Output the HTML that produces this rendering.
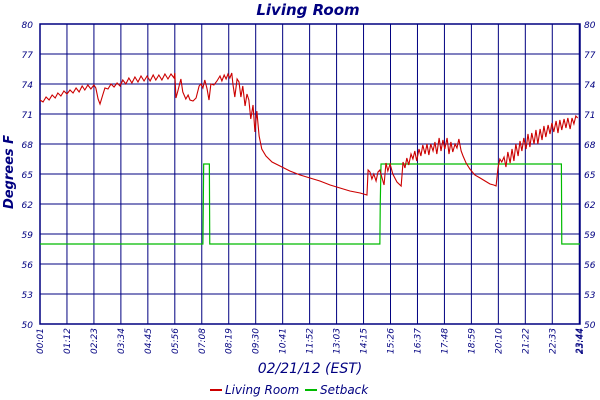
<!DOCTYPE html>
<html><head><meta charset="utf-8"><style>
body{margin:0;background:#fff}
svg{display:block;font-family:"DejaVu Sans","Liberation Sans",sans-serif}
</style></head><body>
<svg width="600" height="400" viewBox="0 0 600 400">
<text x="308" y="15" text-anchor="middle" fill="#000080" font-size="15" font-style="italic" font-weight="bold">Living Room</text>
<text transform="translate(13,172) rotate(-90)" text-anchor="middle" fill="#000080" font-size="13" font-style="italic" font-weight="bold">Degrees F</text>
<text x="310" y="373" text-anchor="middle" fill="#000080" font-size="14" font-style="italic">02/21/12 (EST)</text>
<g>
<line x1="210" y1="390" x2="222" y2="390" stroke="#cc0000" stroke-width="2"/>
<text x="225" y="394" fill="#000080" font-size="12" font-style="italic">Living Room</text>
<line x1="305" y1="390" x2="317" y2="390" stroke="#00bb00" stroke-width="2"/>
<text x="320" y="394" fill="#000080" font-size="12" font-style="italic">Setback</text>
</g>
<g id="grid"></g>
<g id="series"></g>
<g id="labels"></g>
</svg>
<script>
const yTicks=[50,53,56,59,62,65,68,71,74,77,80];
const xTickMinutes=[0,71,142,213,284,355,426,497,568,639,710,781,852,923,994,1065,1136,1207,1278,1349,1420,1422];
const xTickLabels=["00:01","01:12","02:23","03:34","04:45","05:56","07:08","08:19","09:30","10:41","11:52","13:03","14:15","15:26","16:37","17:48","18:59","20:10","21:22","22:33","23:44","23:44"];
const tempMinutes=[0,8,16,24,32,40,47,55,63,71,79,87,95,103,111,118,126,134,142,147,153,158,166,171,179,187,195,203,211,218,226,234,242,250,258,266,274,282,290,298,305,313,321,329,337,345,353,355,358,363,371,376,384,390,395,403,411,419,424,429,434,440,445,450,458,466,474,479,485,490,495,500,505,508,513,519,524,529,534,540,545,550,555,561,566,571,577,584,595,611,632,658,685,711,737,764,790,816,843,861,864,869,874,879,885,890,895,900,906,911,916,922,929,940,951,956,961,966,971,977,982,987,992,998,1003,1008,1014,1019,1024,1029,1035,1040,1045,1051,1056,1061,1066,1072,1077,1082,1087,1093,1098,1103,1109,1114,1122,1132,1145,1159,1172,1185,1195,1201,1206,1211,1216,1222,1227,1232,1238,1243,1248,1253,1259,1264,1269,1274,1280,1285,1290,1295,1301,1306,1311,1317,1322,1327,1332,1338,1343,1348,1353,1359,1364,1369,1374,1380,1385,1390,1396,1401,1406,1411,1416];
const tempValues=[72.4,72.2,72.7,72.4,72.9,72.6,73.1,72.8,73.3,73.0,73.4,73.1,73.6,73.2,73.8,73.4,73.9,73.5,73.9,73.6,72.5,72.0,73.0,73.6,73.5,74.0,73.7,74.1,73.8,74.4,74.0,74.6,74.1,74.7,74.2,74.8,74.3,74.8,74.3,74.9,74.4,74.9,74.4,75.0,74.5,75.0,74.6,75.1,72.6,73.3,74.5,73.2,72.5,72.9,72.4,72.3,72.6,73.8,74.0,73.6,74.4,73.5,72.4,74.0,73.9,74.3,74.8,74.3,74.9,74.5,75.0,74.6,75.1,74.0,72.7,74.5,74.2,72.7,73.8,71.8,73.0,72.4,70.5,71.9,69.2,71.3,68.8,67.5,66.8,66.2,65.8,65.3,64.9,64.6,64.3,63.9,63.6,63.3,63.1,62.9,65.4,65.2,64.5,65.0,64.3,65.2,65.4,64.7,63.9,66.1,65.3,66.0,65.0,64.2,63.8,66.2,65.6,66.6,65.9,67.0,66.5,67.3,66.3,67.5,66.8,67.9,67.0,68.0,66.9,68.0,67.3,68.2,67.0,68.6,67.3,68.4,67.5,68.6,67.0,68.2,67.2,68.0,67.6,68.5,67.3,66.8,66.1,65.5,64.9,64.6,64.3,64.0,63.9,63.8,65.6,66.5,66.2,66.7,65.7,67.2,66.1,67.5,66.3,68.0,66.8,68.3,67.3,68.6,67.5,69.0,67.7,69.1,68.0,69.4,68.0,69.5,68.4,69.8,68.7,69.9,69.0,70.1,69.2,70.3,69.1,70.4,69.4,70.5,69.6,70.6,69.5,70.6,70.0,70.8,70.6];
const setbackMinutes=[0,429,430,431,446,447,895,896,898,1373,1374,1422];
const setbackValues=[58,58,62,66,66,58,58,62,66,66,58,58];

const L=40,R=580,T=24,B=324,XMAX=1422,YMIN=50,YMAX=80;
const xs=m=>L+(m/XMAX)*(R-L);
const ys=v=>B-(v-YMIN)/(YMAX-YMIN)*(B-T);
const NS="http://www.w3.org/2000/svg";
const grid=document.getElementById('grid'),series=document.getElementById('series'),labels=document.getElementById('labels');
function mk(tag,attrs,parent){const e=document.createElementNS(NS,tag);for(const k in attrs)e.setAttribute(k,attrs[k]);parent.appendChild(e);return e;}
yTicks.forEach(v=>{
  const l=mk('line',{x1:L,x2:R,y1:ys(v),y2:ys(v),stroke:'#000080','stroke-width':1},grid);
  
  
  const t1=mk('text',{x:L-7,y:ys(v)+4,'text-anchor':'end',fill:'#000080','font-size':9,'font-style':'italic'},labels);
  t1.textContent=v;
  
  
  const t2=mk('text',{x:R+4,y:ys(v)+4,'text-anchor':'start',fill:'#000080','font-size':9,'font-style':'italic'},labels);
  t2.textContent=v;
  
  
});
xTickMinutes.forEach((m,i)=>{
  const l=mk('line',{x1:xs(m),x2:xs(m),y1:T,y2:B,stroke:'#000080','stroke-width':1},grid);
  
  
  const x=xs(m)+3;
  const t=mk('text',{transform:`translate(${x},${B+4}) rotate(-90)`,'text-anchor':'end',fill:'#000080','font-size':9,'font-style':'italic'},labels);
  t.textContent=xTickLabels[i];
  
  
});
const frame=mk('rect',{x:L,y:T,width:R-L,height:B-T,fill:'none',stroke:'#000080','stroke-width':1.5},grid);


const sb=mk('polyline',{points:setbackMinutes.map((m,i)=>xs(m)+','+ys(setbackValues[i])).join(' '),fill:'none',stroke:'#00bb00','stroke-width':1.2},series);


const tl=mk('polyline',{points:tempMinutes.map((m,i)=>xs(m)+','+ys(tempValues[i])).join(' '),fill:'none',stroke:'#cc0000','stroke-width':1.1},series);


</script>
</body></html>
